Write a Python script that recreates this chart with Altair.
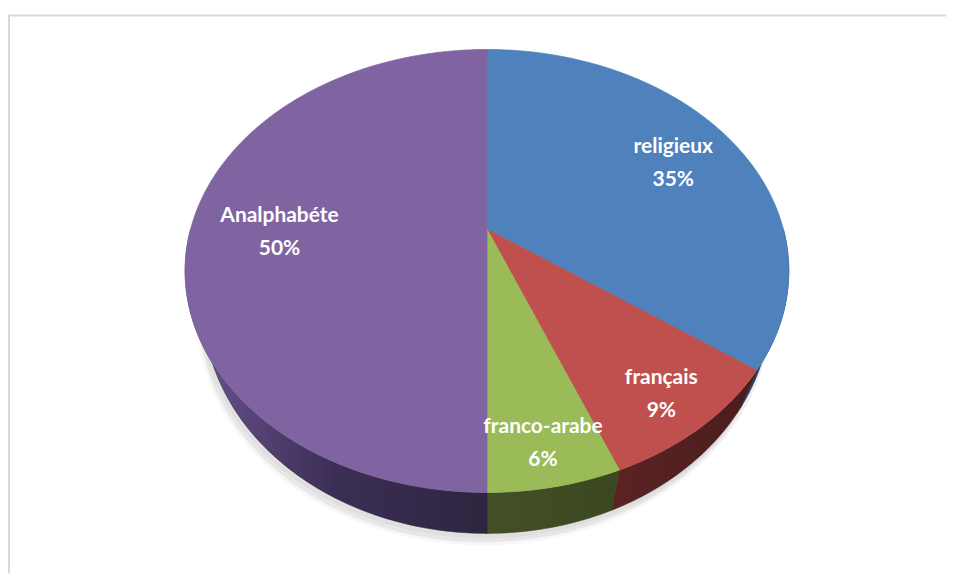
import altair as alt
import numpy as np
import pandas as pd

# ---- data (clockwise from 12 o'clock) ----
categories = ["religieux", "français", "franco-arabe", "Analphabéte"]
percent = [35, 9, 6, 50]

# ---- styles ----
top_colors = ["#4F81BD", "#C0504D", "#9BBB59", "#8064A2"]
side_stops = [
    ["#2a4a75", "#1d3453"],
    ["#5a2423", "#4b1c1c"],
    ["#435027", "#3b4721"],
    ["#6b5591", "#3b2e54", "#2e2540"],
]
W, H = 939, 560

# ---- 3D pie geometry (layout constants) ----
CX, CY = 479.0, 215.0     # apex of the pie in plot coordinates
RX, RY = 297.0, 214.0     # horizontal / vertical radii of the top face
P = 0.189                 # perspective factor
DEPTH = 33.3              # thickness of the pie
K = 0.94                  # horizontal shrink of the bottom face
LINE_H = 33


def proj(theta, f=1.0, bottom=False):
    u = f * np.sin(theta)
    v = f * np.cos(theta)
    den = 1 + P * v
    x = RX * u / den
    y = -RY * v / den
    if bottom:
        x = K * x
        y = y + DEPTH / den
    return CX + x, CY + y


shares = np.array(percent, dtype=float) / np.sum(percent)
ends = np.cumsum(shares) * 2 * np.pi
starts = ends - shares * 2 * np.pi

top_rows, side_rows, shadow_rows, label_rows = [], [], [], []
for k, cat in enumerate(categories):
    a0, a1 = starts[k], ends[k]
    n = max(int(np.degrees(a1 - a0)), 2)
    arc = np.linspace(a0, a1, n + 1)
    pts = [(CX, CY)] + [proj(t) for t in arc] + [(CX, CY)]
    for i, (x, y) in enumerate(pts):
        top_rows.append({"cat": cat, "i": i, "x": x, "y": y})
    # visible side wall (front half)
    s0, s1 = max(a0, np.pi / 2), min(a1, 3 * np.pi / 2)
    if s1 > s0:
        m = max(int(np.degrees(s1 - s0)), 2)
        sarc = np.linspace(s0, s1, m + 1)
        spts = [proj(t) for t in sarc] + [proj(t, bottom=True) for t in sarc[::-1]]
        spts.append(spts[0])
        for i, (x, y) in enumerate(spts):
            side_rows.append({"cat": cat, "i": i, "x": x, "y": y})
    # label
    mid = (a0 + a1) / 2
    f = 0.87 - 0.34 * shares[k]
    lx, ly = proj(mid, f)
    label_rows.append({"cat": cat, "x": lx, "y": ly,
                       "label": [cat, f"{percent[k]}%"]})

# soft shadow under the pie
sh = np.linspace(np.pi / 2, 3 * np.pi / 2, 181)
for j, (dx, dy) in enumerate([(-4, 9), (-2, 5)]):
    for i, t in enumerate(sh):
        x, y = proj(t, bottom=True)
        shadow_rows.append({"g": j, "i": i, "x": x + dx, "y": y + dy})

top_df = pd.DataFrame(top_rows)
side_df = pd.DataFrame(side_rows)
shadow_df = pd.DataFrame(shadow_rows)
label_df = pd.DataFrame(label_rows)

xs = alt.Scale(domain=[0, W], nice=False, zero=False)
ys = alt.Scale(domain=[H, 0], nice=False, zero=False)
X = alt.X("x:Q", scale=xs, axis=None)
Y = alt.Y("y:Q", scale=ys, axis=None)

layers = []

for j, op in enumerate([0.25, 0.35]):
    layers.append(
        alt.Chart(shadow_df).transform_filter(alt.datum.g == j)
        .mark_line(fill="#c8c8c8", stroke="#d0d0d0", strokeWidth=6,
                   fillOpacity=op, strokeOpacity=op * 0.6, interpolate="linear")
        .encode(x=X, y=Y, order="i:Q")
    )

for k, cat in enumerate(categories):
    if cat not in set(side_df["cat"]):
        continue
    stops = side_stops[k]
    grad = alt.Gradient(
        gradient="linear", x1=0, x2=1, y1=0, y2=0,
        stops=[alt.GradientStop(color=c, offset=o / (len(stops) - 1))
               for o, c in enumerate(stops)],
    )
    layers.append(
        alt.Chart(side_df).transform_filter(alt.datum.cat == cat)
        .mark_line(fill=grad, stroke=stops[-1], strokeWidth=0.6)
        .encode(x=X, y=Y, order="i:Q")
    )

color_scale = alt.Scale(domain=categories, range=top_colors)
layers.append(
    alt.Chart(top_df)
    .mark_line(strokeWidth=0.8)
    .encode(x=X, y=Y, order="i:Q", detail="cat:N",
            fill=alt.Fill("cat:N", scale=color_scale, legend=None),
            stroke=alt.Stroke("cat:N", scale=color_scale, legend=None))
)

layers.append(
    alt.Chart(label_df)
    .mark_text(font="Lato", fontWeight="bold", fontSize=21, color="white",
               lineHeight=LINE_H, align="center", baseline="middle",
               dy=-LINE_H / 2 + 3)
    .encode(x=X, y=Y, text="label")
)

# chart frame (only the top and left edges are visible)
layers.append(
    alt.Chart(pd.DataFrame({"a": [0]})).mark_rule(color="#d9d9d9", strokeWidth=2)
    .encode(x=alt.value(0), x2=alt.value(W), y=alt.value(1))
)
layers.append(
    alt.Chart(pd.DataFrame({"a": [0]})).mark_rule(color="#d9d9d9", strokeWidth=2)
    .encode(x=alt.value(0), y=alt.value(0), y2=alt.value(H))
)

chart = (
    alt.layer(*layers)
    .properties(width=W, height=H,
                view=alt.ViewBackground(strokeOpacity=0, strokeWidth=0),
                padding={"left": 0, "top": 5, "right": 0, "bottom": 0})
    .configure_view(strokeWidth=0, strokeOpacity=0)
    .configure(background="white")
)

chart.save("out.html", embed_options={"renderer": "svg", "actions": False})
